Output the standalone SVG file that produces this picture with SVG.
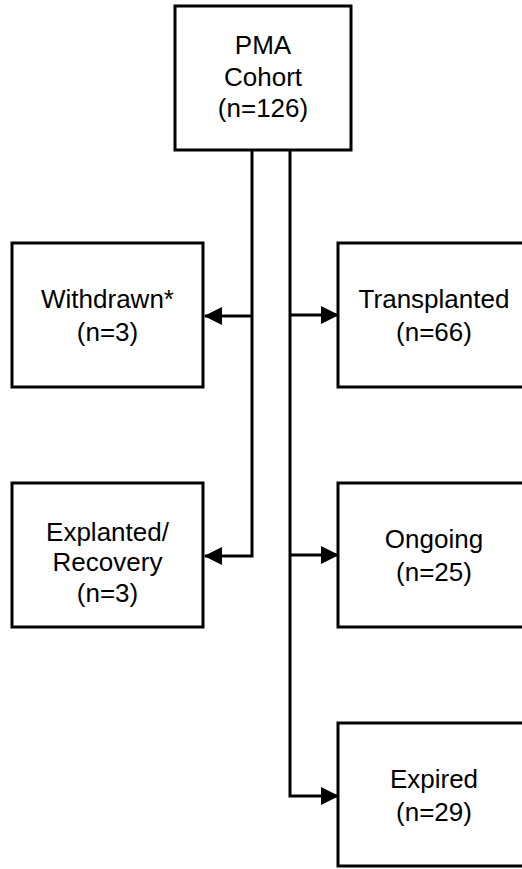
<svg xmlns="http://www.w3.org/2000/svg" width="522" height="869" viewBox="0 0 522 869">
<style>
.box{fill:#fff;stroke:#000;stroke-width:3}
.t{font-family:"Liberation Sans",Arial,sans-serif;font-size:26px;fill:#000;text-anchor:middle}
.c{fill:none;stroke:#000;stroke-width:3}
</style>
<defs>
<marker id="ah" markerWidth="18" markerHeight="18" viewBox="0 0 18 18" refX="17" refY="9" orient="auto" markerUnits="userSpaceOnUse">
<path d="M0,0 L18,9 L0,18 Z" fill="#000"/>
</marker>
</defs>
<rect width="522" height="869" fill="#fff"/>
<g id="connectors">
<path class="c" d="M252,150 V556 H205" marker-end="url(#ah)"/>
<path class="c" d="M252,316 H205" marker-end="url(#ah)"/>
<path class="c" d="M290,150 V796 H338" marker-end="url(#ah)"/>
<path class="c" d="M290,315 H338" marker-end="url(#ah)"/>
<path class="c" d="M290,555 H338" marker-end="url(#ah)"/>
</g>
<g id="pma">
<rect class="box" x="175" y="6" width="176" height="144"/>
<text class="t" x="263" y="54">PMA</text>
<text class="t" x="263" y="86">Cohort</text>
<text class="t" x="263" y="117">(n=126)</text>
</g>
<g id="withdrawn">
<rect class="box" x="12" y="243" width="191" height="144"/>
<text class="t" x="107.5" y="308">Withdrawn*</text>
<text class="t" x="107.5" y="341">(n=3)</text>
</g>
<g id="transplanted">
<rect class="box" x="338" y="243" width="191" height="144"/>
<text class="t" x="434" y="308">Transplanted</text>
<text class="t" x="434" y="341">(n=66)</text>
</g>
<g id="explanted">
<rect class="box" x="12" y="483" width="191" height="144"/>
<text class="t" x="107.5" y="541">Explanted/</text>
<text class="t" x="107.5" y="571">Recovery</text>
<text class="t" x="107.5" y="602">(n=3)</text>
</g>
<g id="ongoing">
<rect class="box" x="338" y="483" width="191" height="144"/>
<text class="t" x="434" y="548">Ongoing</text>
<text class="t" x="434" y="581">(n=25)</text>
</g>
<g id="expired">
<rect class="box" x="338" y="723" width="191" height="143"/>
<text class="t" x="434" y="788">Expired</text>
<text class="t" x="434" y="821">(n=29)</text>
</g>
</svg>
